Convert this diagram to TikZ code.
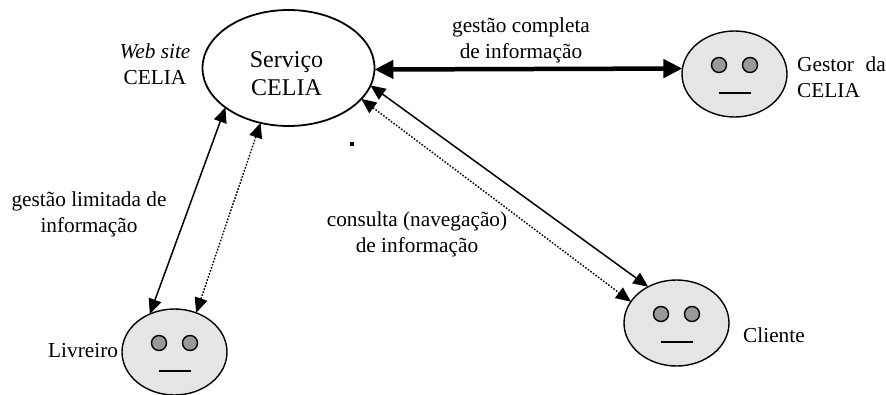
\documentclass[tikz,border=0pt]{standalone}
\usepackage{fontspec}
\setmainfont{Liberation Serif}
\usetikzlibrary{arrows.meta,shapes.geometric}
\tikzset{
  px/.style={x=1pt,y=-1pt},
  service/.style={draw,ellipse,line width=1.8pt,inner sep=0pt,outer sep=0pt,minimum width=172pt,minimum height=116pt},
  servtext/.style={align=center,inner sep=0pt,font=\fontsize{24}{28}\selectfont},
  face/.style={draw,ellipse,fill=black!10,line width=1.4pt,inner sep=0pt,outer sep=0pt,minimum width=105pt,minimum height=86pt},
  eye/.style={draw,circle,fill=black!40,line width=1.4pt,inner sep=0pt,outer sep=0pt,minimum size=15pt},
  mouth/.style={line width=2pt},
  lbl/.style={align=center,inner sep=0pt,font=\fontsize{21.3}{26}\selectfont},
  link/.style={line width=1.5pt,{Triangle[length=15pt,width=13pt]}-{Triangle[length=15pt,width=13pt]}},
  dotlink/.style={link,line width=1.4pt,dash pattern=on 1.6pt off 1.6pt},
  heavy/.style={line width=4.5pt,{Triangle[length=19pt,width=18pt]}-{Triangle[length=19pt,width=18pt]}}
}
\newcommand{\smiley}[3]{%
  \node[face] (#1) at (#2,#3) {};
  \node[eye] (#1eyeL) at (#2-15.5,#3-9) {};
  \node[eye] (#1eyeR) at (#2+15.5,#3-9) {};
  \coordinate (#1mL) at (#2-16,#3+19);
  \coordinate (#1mR) at (#2+16,#3+19);
  \draw[mouth] (#1mL) -- (#1mR);
}
\begin{document}
\begin{tikzpicture}[px]
\useasboundingbox (0,0) rectangle (886,394);
\fill[white] (0,0) rectangle (886,394);
\node[service] (serv) at (288.5,68) {};
\node[servtext] (servt) at (286.5,74) {Serviço\\CELIA};
\smiley{gestor}{734.5}{74}
\smiley{livreiro}{174.5}{352}
\smiley{cliente}{676.5}{323}
\draw[heavy] (serv.359.3) -- (gestor.174);
\draw[link] (serv.212) -- (livreiro.123);
\draw[dotlink] (serv.243) -- (livreiro.61);
\draw[link] (serv.348) -- (cliente.128);
\draw[dotlink] (serv.337) -- (cliente.155);
\node[lbl] (web) at (155,64) {\textit{Web site}\\CELIA};
\node[lbl] (gc) at (521,40) {gestão completa\\de informação};
\node[lbl] (gl) at (89,214) {gestão limitada de\\informação};
\node[lbl] (cn) at (417,234.5) {consulta (navegação)\\de informação};
\node[lbl,align=left,anchor=west] (gd) at (797,77) {Gestor\hspace{0.55em}da\\CELIA};
\node[lbl,anchor=base west] (lv) at (48,357) {Livreiro};
\node[lbl,anchor=base west] (cl) at (743,342) {Cliente};
\node[fill=black,inner sep=0pt,minimum size=4pt] (dot) at (351.5,144) {};
\end{tikzpicture}
\end{document}
